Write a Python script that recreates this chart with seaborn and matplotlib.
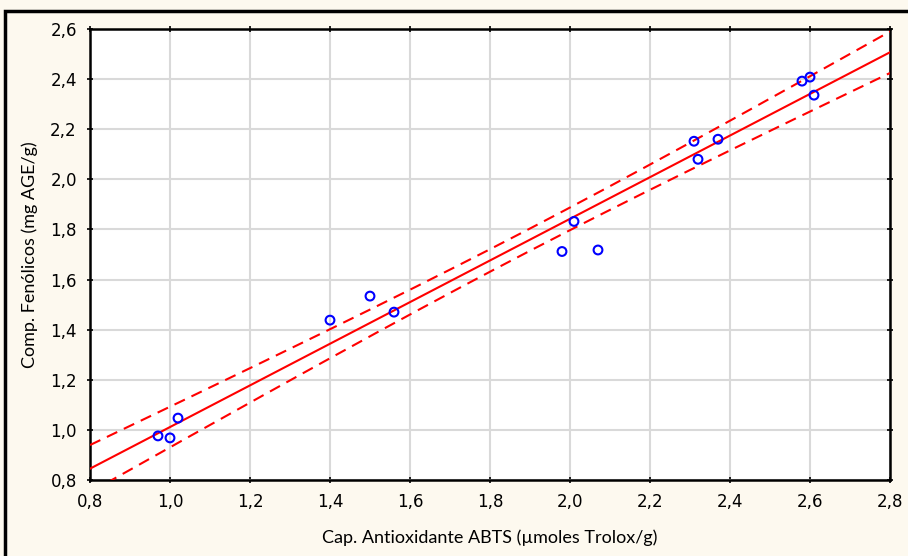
import numpy as np
import pandas as pd
import matplotlib
matplotlib.use("Agg")
import matplotlib.pyplot as plt
import seaborn as sns
from matplotlib.patches import Rectangle
from matplotlib.ticker import FuncFormatter

# data
abts = [0.97, 1.00, 1.02, 1.40, 1.50, 1.56, 1.98, 2.01, 2.07, 2.31, 2.32, 2.37, 2.58, 2.60, 2.61]
fenolicos = [0.976, 0.968, 1.047, 1.438, 1.534, 1.470, 1.712, 1.832, 1.718, 2.152, 2.080, 2.160, 2.392, 2.408, 2.336]

x_ticks = [0.8, 1.0, 1.2, 1.4, 1.6, 1.8, 2.0, 2.2, 2.4, 2.6, 2.8]
y_ticks = [0.8, 1.0, 1.2, 1.4, 1.6, 1.8, 2.0, 2.2, 2.4, 2.6]

df = pd.DataFrame({"abts": abts, "fen": fenolicos})

# linear fit + 95% confidence band of the mean
x = df["abts"].values
y = df["fen"].values
n = len(x)
b, a = np.polyfit(x, y, 1)
resid = y - (a + b * x)
s = np.sqrt(np.sum(resid ** 2) / (n - 2))
t_crit = 2.160  # t(0.975, 13)
xs = np.linspace(0.8, 2.8, 200)
fit = a + b * xs
se = s * np.sqrt(1 / n + (xs - x.mean()) ** 2 / np.sum((x - x.mean()) ** 2))
band = pd.DataFrame({"x": xs, "fit": fit, "lo": fit - t_crit * se, "hi": fit + t_crit * se})

bg = "#fdf9ef"
fig = plt.figure(figsize=(9.08, 5.56), dpi=100, facecolor=bg)
ax = fig.add_axes([90 / 908, 1 - 480 / 556, 800 / 908, 451 / 556])
ax.set_facecolor("white")

# outer frame
fig.patches.append(Rectangle((5 / 908, -0.1), 1.2, 1 - 11 / 556 + 0.1, transform=fig.transFigure,
                             fill=False, edgecolor="black", linewidth=2.5, zorder=0))

ax.grid(True, color="#d9d9d9", linewidth=1.5, zorder=0)
ax.set_axisbelow(True)

sns.lineplot(data=band, x="x", y="fit", color="red", linewidth=1.5, ax=ax, zorder=3)
sns.lineplot(data=band, x="x", y="lo", color="red", linewidth=1.5, ax=ax, zorder=3)
sns.lineplot(data=band, x="x", y="hi", color="red", linewidth=1.5, ax=ax, zorder=3)
for ln in ax.lines[1:]:
    ln.set_linestyle((0, (5.5, 3.5)))

sns.scatterplot(data=df, x="abts", y="fen", marker="o", s=40, facecolor="none",
                edgecolor="blue", linewidth=1.5, ax=ax, zorder=4)

ax.set_xlim(0.8, 2.8)
ax.set_ylim(0.8, 2.6)
ax.set_xticks(x_ticks)
ax.set_yticks(y_ticks)
comma = FuncFormatter(lambda v, p: f"{v:.1f}".replace(".", ","))
ax.xaxis.set_major_formatter(comma)
ax.yaxis.set_major_formatter(comma)
ax.tick_params(direction="inout", length=5, width=1.2, top=True, right=True,
               labelsize=12, labelcolor="black", pad=7)
for lab in ax.get_xticklabels() + ax.get_yticklabels():
    lab.set_family("DejaVu Sans")

for sp in ax.spines.values():
    sp.set_color("black")
    sp.set_linewidth(1.8)

ax.set_xlabel("Cap. Antioxidante ABTS (µmoles Trolox/g)", fontsize=13, family="Lato", labelpad=13)
ax.set_ylabel("Comp. Fenólicos (mg AGE/g)", fontsize=13, family="Lato", labelpad=9)

fig.savefig("out.png", dpi=100, facecolor=bg)
